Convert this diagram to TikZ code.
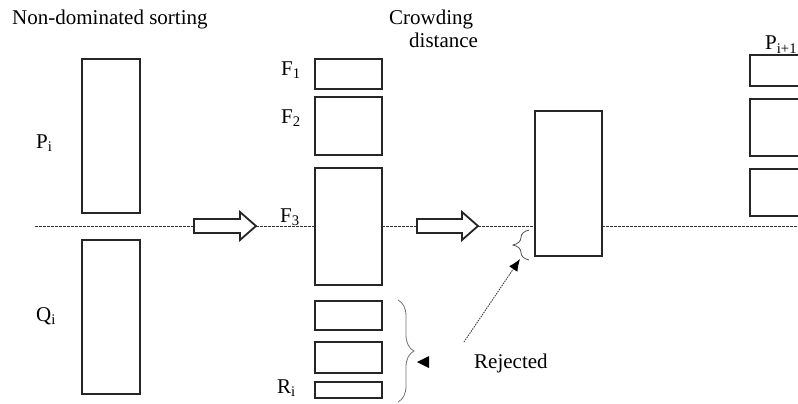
\documentclass[tikz,border=0pt]{standalone}
\usepackage{fontspec}
\setmainfont{Liberation Serif}
\usetikzlibrary{decorations.pathreplacing,arrows.meta}
\begin{document}
\begin{tikzpicture}[x=1pt,y=-1pt,
  setbox/.style 2 args={draw=black!85,line width=1.8pt,inner sep=0pt,outer sep=0pt,
    minimum width=#1pt,minimum height=#2pt},
  guide/.style={draw=black!80,line width=1pt,dash pattern=on 2.5pt off 1.5pt},
  blockarrow/.style={draw=black!85,line width=1.8pt,fill=white,line join=miter},
  lbl/.style={inner sep=0pt,font=\fontsize{21}{24}\selectfont},
  bracestyle/.style={draw=black!55,line width=0.8pt,decorate,decoration={brace,amplitude=16pt}},
  pointer/.style={draw=black!75,line width=0.9pt,dash pattern=on 1.5pt off 1pt},
]
\useasboundingbox (0,0) rectangle (798,404);
\clip (0,0) rectangle (798,404);

% headings
\node[lbl,anchor=base west] (hsort) at (12,25) {Non-dominated sorting};
\node[lbl,anchor=base west] (hcrowd) at (389,25) {Crowding};
\node[lbl,anchor=base west] (hdist) at (409,48) {distance};

% parent and offspring populations
\node[setbox={58}{154}] (P) at (111,136) {};
\node[setbox={58}{154}] (Q) at (111,317) {};
\node[lbl,anchor=base west] (Plbl) at (36,148) {P\textsubscript{i}};
\node[lbl,anchor=base west] (Qlbl) at (36,321) {Q\textsubscript{i}};

% fronts of the combined population
\node[setbox={67}{30}]  (F1) at (348.5,74) {};
\node[setbox={67}{58}]  (F2) at (348.5,126) {};
\node[setbox={67}{117}] (F3) at (348.5,226.5) {};
\node[setbox={67}{29}]  (R1) at (348.5,315.5) {};
\node[setbox={67}{31}]  (R2) at (348.5,357.5) {};
\node[setbox={67}{16}]  (R3) at (348.5,390) {};
\node[lbl,anchor=base west] (F1lbl) at (281,75) {F\textsubscript{1}};
\node[lbl,anchor=base west] (F2lbl) at (281,123) {F\textsubscript{2}};
\node[lbl,anchor=base west] (F3lbl) at (280,222) {F\textsubscript{3}};
\node[lbl,anchor=base west] (Rlbl) at (277,393) {R\textsubscript{i}};

% front sorted by crowding distance
\node[setbox={67}{145}] (C) at (568.5,183.5) {};

% next population
\node[setbox={90}{31}] (N1) at (795,70.5) {};
\node[setbox={90}{57}] (N2) at (795,127.5) {};
\node[setbox={90}{47}] (N3) at (795,192.5) {};
\node[lbl,anchor=base west] (Nlbl) at (765,50) {P\textsubscript{i+1}};

% dashed cut line and block arrows
\coordinate (gs) at (35,226);
\coordinate (ge) at (798,226);
\coordinate (a1t) at (194,226);
\coordinate (a1h) at (256,226);
\coordinate (a2t) at (417,226);
\coordinate (a2h) at (478,226);
\draw[guide] (gs) -- (a1t);
\draw[guide] (a1h) -- (a1h -| F3.west);
\draw[guide] (a1h -| F3.east) -- (a2t);
\draw[guide] (a2h) -- (a2h -| C.west);
\draw[guide] (a2h -| C.east) -- (ge);

\draw[blockarrow] (a1t) ++(0,-7) -- ++(46,0) -- ++(0,-7) -- (a1h) -- ++(-16,14) -- ++(0,-7) -- ++(-46,0) -- cycle;
\draw[blockarrow] (a2t) ++(0,-7) -- ++(45,0) -- ++(0,-7) -- (a2h) -- ++(-16,14) -- ++(0,-7) -- ++(-45,0) -- cycle;

% rejected fronts
\coordinate (rb1) at (398,300);
\coordinate (rb2) at (398,402);
\draw[bracestyle] (rb1) -- (rb2);
\coordinate (rtip) at (417,362);
\fill[black] (rtip) -- ++(12,-6) -- ++(0,12) -- cycle;

\coordinate (sb1) at (529,260);
\coordinate (sb2) at (529,230);
\draw[bracestyle,draw=black!70] (sb1) -- (sb2);

\node[lbl,anchor=base west] (rej) at (474,368) {Rejected};
\coordinate (rjt) at (464,342);
\coordinate (sbt) at (520,259);
\draw[pointer,-{Latex[length=12pt,width=10pt,black,fill=black]}] (rjt) -- (sbt);
\end{tikzpicture}
\end{document}
